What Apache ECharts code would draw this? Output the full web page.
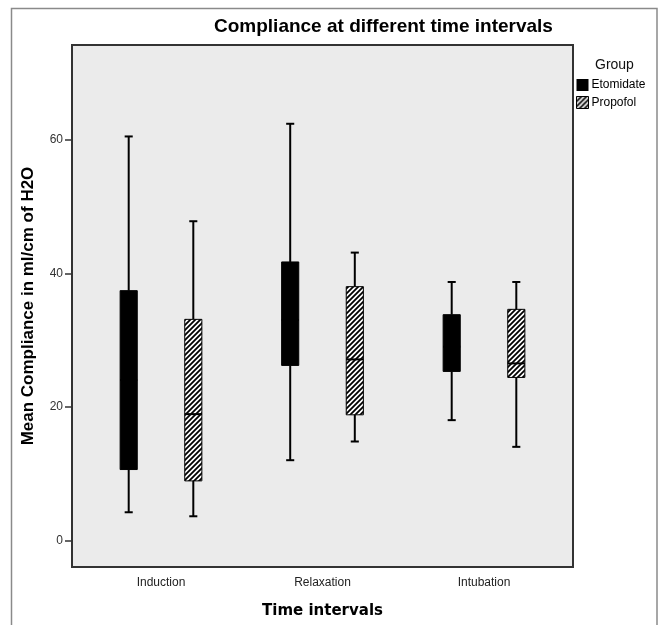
<!DOCTYPE html>
<html>
<head>
<meta charset="utf-8">
<script src="https://cdn.jsdelivr.net/npm/echarts@6/dist/echarts.min.js"></script>
<style>
  html, body { margin: 0; padding: 0; background: #fff; }
  #chart { width: 659px; height: 625px; }
</style>
</head>
<body>
<div id="chart"></div>
<script>
// time points on the x axis
const categories = ['Induction', 'Relaxation', 'Intubation'];
// five-number summaries per time point: [min, Q1, median, Q3, max]
const etomidateBoxes = [
  [4.2, 10.6, 24.0, 37.4, 60.5],
  [12.0, 26.2, 33.0, 41.7, 62.4],
  [18.0, 25.3, 29.0, 33.8, 38.7]
];
const propofolBoxes = [
  [3.6, 8.9, 18.9, 33.1, 47.8],
  [14.8, 18.8, 27.1, 38.0, 43.1],
  [14.0, 24.4, 26.5, 34.6, 38.7]
];
const yTicks = [0, 20, 40, 60];

// diagonal hatch for the Propofol boxes
function makeHatch() {
  const c = document.createElement('canvas');
  c.width = c.height = 5;
  const g = c.getContext('2d');
  g.fillStyle = '#fff';
  g.fillRect(0, 0, 5, 5);
  g.strokeStyle = '#000';
  g.lineWidth = 1.8;
  g.beginPath();
  g.moveTo(0, 5); g.lineTo(5, 0);
  g.moveTo(-1, 1); g.lineTo(1, -1);
  g.moveTo(4, 6); g.lineTo(6, 4);
  g.stroke();
  return { image: c, repeat: 'repeat' };
}
const hatch = makeHatch();

function boxRenderer(side, fill) {
  return function (params, api) {
    const xi = api.value(0);
    const band = api.size([1, 0])[0];
    const off = side * band * 0.2;
    const half = band * 0.053;
    const capHalf = band * 0.025;
    const pLow = api.coord([xi, api.value(1)]);
    const pQ1 = api.coord([xi, api.value(2)]);
    const pMed = api.coord([xi, api.value(3)]);
    const pQ3 = api.coord([xi, api.value(4)]);
    const pHigh = api.coord([xi, api.value(5)]);
    const cx = pLow[0] + off;
    const line = { stroke: '#000', lineWidth: 2 };
    return {
      type: 'group',
      children: [
        { type: 'line', shape: { x1: cx, y1: pHigh[1], x2: cx, y2: pQ3[1] }, style: line },
        { type: 'line', shape: { x1: cx, y1: pQ1[1], x2: cx, y2: pLow[1] }, style: line },
        { type: 'line', shape: { x1: cx - capHalf, y1: pHigh[1], x2: cx + capHalf, y2: pHigh[1] }, style: line },
        { type: 'line', shape: { x1: cx - capHalf, y1: pLow[1], x2: cx + capHalf, y2: pLow[1] }, style: line },
        { type: 'rect', shape: { x: cx - half, y: pQ3[1], width: half * 2, height: pQ1[1] - pQ3[1] },
          style: { fill: fill, stroke: '#000', lineWidth: 1 } },
        { type: 'line', shape: { x1: cx - half, y1: pMed[1], x2: cx + half, y2: pMed[1] }, style: line }
      ]
    };
  };
}

function toData(boxes) {
  return boxes.map(function (b, i) { return [i].concat(b); });
}

const chart = echarts.init(document.getElementById('chart'));
chart.setOption({
  animation: false,
  backgroundColor: '#fff',
  title: [
    {
      text: 'Compliance at different time intervals',
      left: 209, top: 12,
      textStyle: { fontFamily: 'Liberation Sans', fontSize: 19, fontWeight: 'bold', color: '#000' }
    },
    {
      text: 'Group',
      left: 590, top: 53,
      textStyle: { fontFamily: 'Liberation Sans', fontSize: 14, fontWeight: 'normal', color: '#111' }
    }
  ],
  legend: {
    orient: 'vertical',
    left: 576, top: 79,
    itemWidth: 12, itemHeight: 12, itemGap: 5,
    padding: 0,
    textStyle: { fontFamily: 'Liberation Sans', fontSize: 12, color: '#000', padding: [0, 0, 0, -2] },
    data: [
      { name: 'Etomidate', icon: 'rect', itemStyle: { color: '#000' } },
      { name: 'Propofol', icon: 'rect', itemStyle: { color: hatch, borderColor: '#000', borderWidth: 1 } }
    ]
  },
  graphic: [
    {
      type: 'rect', silent: true, z: -10,
      shape: { x: 11.5, y: 8.5, width: 645.5, height: 640 },
      style: { fill: 'none', stroke: '#8a8a8a', lineWidth: 1.5 }
    }
  ],
  grid: [
    { left: 72, right: 86, top: 45, bottom: 58, show: true,
      backgroundColor: '#ebebeb', borderColor: '#333', borderWidth: 2 },
    { left: 80.25, right: 94.25, top: 45, bottom: 58 }
  ],
  xAxis: [
    { gridIndex: 0, type: 'value', show: false, min: 0, max: 1 },
    {
      gridIndex: 1, type: 'category', data: categories,
      axisLine: { show: false },
      axisTick: { alignWithLabel: true, length: 7, lineStyle: { color: '#333', width: 1.5 } },
      axisLabel: { margin: 10, fontFamily: 'Liberation Sans', fontSize: 12, color: '#222' },
      name: 'Time intervals', nameLocation: 'middle', nameGap: 37,
      nameTextStyle: { fontFamily: 'DejaVu Sans', fontSize: 15, fontWeight: 'bold', color: '#000' }
    }
  ],
  yAxis: [
    {
      gridIndex: 0, type: 'value', min: -4, max: 74.2,
      axisLine: { show: false },
      splitLine: { show: false },
      axisTick: { show: true, customValues: yTicks, length: 7, lineStyle: { color: '#333', width: 1.5 } },
      axisLabel: { customValues: yTicks, margin: 9, fontFamily: 'Liberation Sans', fontSize: 12, color: '#333' },
      name: 'Mean Compliance in ml/cm of H2O', nameLocation: 'middle', nameGap: 35,
      nameTextStyle: { fontFamily: 'Liberation Sans', fontSize: 17, fontWeight: 'bold', color: '#000' }
    },
    { gridIndex: 1, type: 'value', min: -4, max: 74.2, show: false }
  ],
  series: [
    {
      name: 'Etomidate', type: 'custom', xAxisIndex: 1, yAxisIndex: 1,
      itemStyle: { color: '#000' },
      encode: { x: 0, y: [1, 2, 3, 4, 5] },
      renderItem: boxRenderer(-1, '#000'),
      data: toData(etomidateBoxes)
    },
    {
      name: 'Propofol', type: 'custom', xAxisIndex: 1, yAxisIndex: 1,
      itemStyle: { color: '#555' },
      encode: { x: 0, y: [1, 2, 3, 4, 5] },
      renderItem: boxRenderer(1, hatch),
      data: toData(propofolBoxes)
    }
  ]
});
</script>
</body>
</html>
